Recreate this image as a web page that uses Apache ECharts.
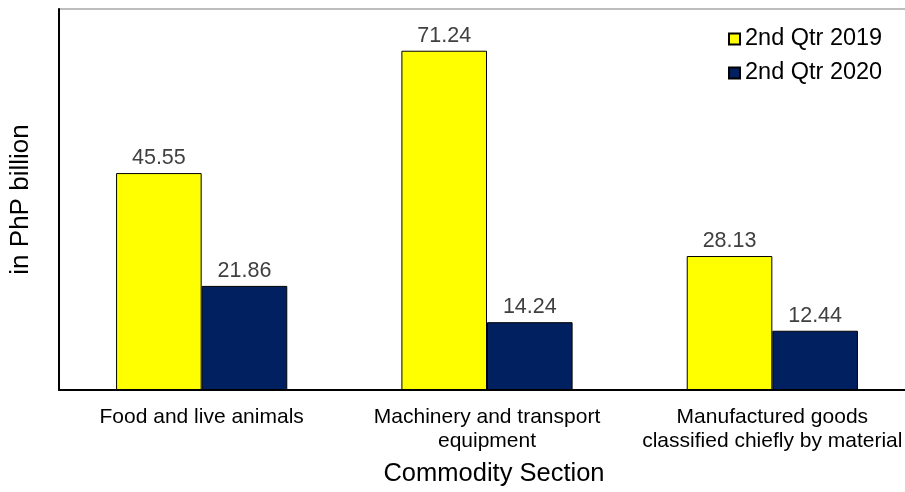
<!DOCTYPE html>
<html><head><meta charset="utf-8">
<script src="https://cdn.jsdelivr.net/npm/echarts@6/dist/echarts.min.js"></script>
<style>html,body{margin:0;padding:0;background:#fff;overflow:hidden;width:905px;height:492px}#c{width:915px;height:492px}</style>
</head><body><div id="c"></div>
<script>
const categories = ["Food and live animals", "Machinery and transport\nequipment", "Manufactured goods\nclassified chiefly by material"];
const seriesNames = ["2nd Qtr 2019", "2nd Qtr 2020"];
const values2019 = [45.55, 71.24, 28.13];
const values2020 = [21.86, 14.24, 12.44];

const chart = echarts.init(document.getElementById('c'));
const font = 'Liberation Sans, Arial, sans-serif';
const labelCfg = { show: true, position: 'top', distance: 4, color: '#404040', fontSize: 21.5, fontFamily: font, formatter: p => p.value.toFixed(2) };
chart.setOption({
  animation: false,
  textStyle: { fontFamily: font },
  grid: { left: 58, right: 0, top: 9, bottom: 101, containLabel: false },
  legend: {
    orient: 'vertical', left: 728, top: 27, padding: 0, itemWidth: 11, itemHeight: 11, itemGap: 10,
    textStyle: { fontSize: 23.5, color: '#000', fontFamily: font },
    data: seriesNames.map(n => ({ name: n, icon: 'rect' }))
  },
  xAxis: {
    type: 'category', data: categories,
    name: 'Commodity Section', nameLocation: 'middle', nameGap: 71,
    nameTextStyle: { fontSize: 25.5, color: '#000', fontFamily: font, padding: [0, 0, 0, 14] },
    axisLine: { lineStyle: { color: '#000', width: 2 } },
    axisTick: { show: false },
    axisLabel: { color: '#000', fontSize: 21, lineHeight: 24, margin: 15, interval: 0, fontFamily: font }
  },
  yAxis: {
    type: 'value', min: 0, max: 80, interval: 80,
    name: 'in PhP billion', nameLocation: 'middle', nameGap: 25,
    nameTextStyle: { fontSize: 26, color: '#000', fontFamily: font },
    axisLine: { show: true, lineStyle: { color: '#000', width: 2 } },
    axisTick: { show: false }, axisLabel: { show: false },
    splitLine: { show: true, lineStyle: { color: '#bdbdbd', width: 2 } }
  },
  series: [
    { name: seriesNames[0], type: 'bar', data: values2019, barGap: '0%', barCategoryGap: '40%',
      itemStyle: { color: '#ffff00', borderColor: '#000', borderWidth: 1 }, label: labelCfg },
    { name: seriesNames[1], type: 'bar', data: values2020,
      itemStyle: { color: '#002060', borderColor: '#000', borderWidth: 1 }, label: labelCfg }
  ]
});
</script></body></html>
